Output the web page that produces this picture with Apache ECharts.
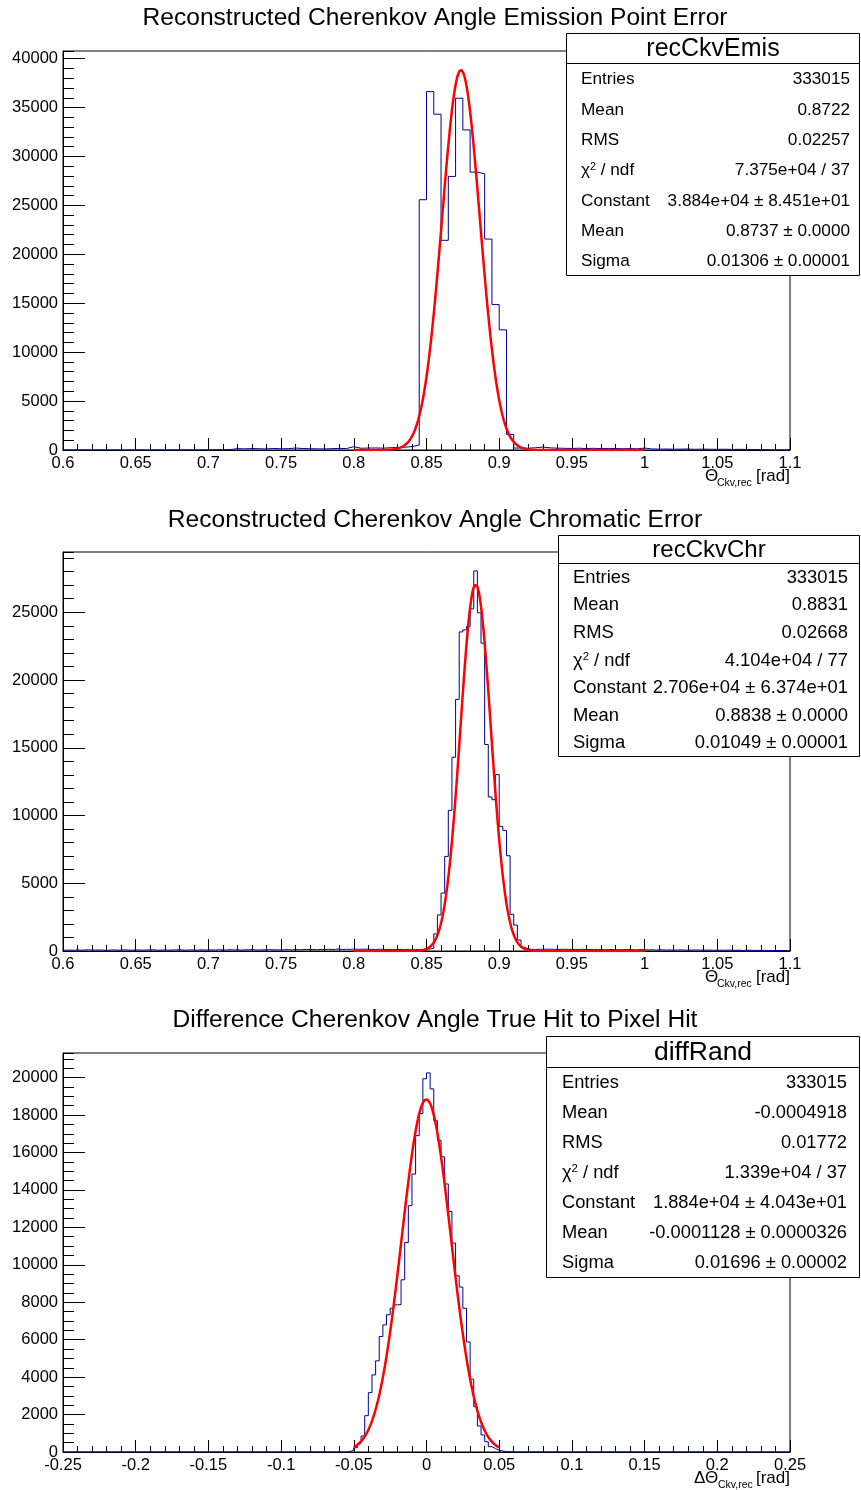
<!DOCTYPE html>
<html>
<head>
<meta charset="utf-8">
<script src="https://cdn.jsdelivr.net/npm/echarts@6/dist/echarts.min.js"></script>
<style>
  html, body { margin: 0; padding: 0; background: #ffffff; }
  #chart { width: 861px; height: 1490px; }
</style>
</head>
<body>
<div id="chart"></div>
<script>
// ---------------- Histogram contents ----------------

// recCkvEmis : 100 bins, 0.6 .. 1.1
const emisBinLow = 0.6;
const emisBinWidth = 0.005;
const emisCounts = [
  0, 0, 10, 0, 0, 10, 0, 0, 0, 10, 0, 0, 10, 0, 0, 0, 10, 0, 0, 10,
  20, 30, 40, 140, 120, 150, 130, 110, 160, 120, 140, 200, 150, 130, 120, 110, 140, 160, 150, 340,
  180, 200, 210, 190, 230, 250, 280, 350, 500, 25580, 36630, 34320, 21430, 27960, 35950, 32720, 28400, 28230, 21560, 14860,
  12280, 1600, 200, 180, 230, 300, 220, 190, 170, 160, 180, 150, 170, 140, 160, 150, 130, 140, 120, 200,
  110, 90, 100, 80, 90, 100, 70, 90, 80, 70, 80, 60, 70, 60, 50, 40, 20, 10, 10, 0
];

// recCkvChr : 200 bins, 0.6 .. 1.1
const chrBinLow = 0.6;
const chrBinWidth = 0.0025;
const chrCounts = [
  60, 70, 50, 80, 60, 70, 90, 60, 70, 80, 60, 50, 70, 80, 60, 70, 90, 70, 60, 80,
  70, 60, 80, 70, 90, 60, 70, 80, 60, 70, 80, 90, 70, 60, 80, 70, 60, 90, 70, 80,
  80, 70, 90, 80, 70, 100, 80, 90, 70, 80, 90, 100, 80, 70, 90, 80, 100, 90, 80, 90,
  90, 100, 80, 110, 90, 100, 120, 100, 110, 90, 120, 110, 130, 100, 120, 140, 110, 130, 120, 140,
  130, 120, 140, 130, 120, 110, 130, 120, 110, 120, 100, 110, 120, 100, 110, 90, 100, 110, 120, 130,
  150, 200, 1260, 2660, 4270, 6980, 10380, 14300, 18570, 23550, 23700, 23950, 25260, 28050, 24960, 22720, 15240, 11370, 11170, 13020,
  9200, 8900, 7030, 2710, 1920, 810, 270, 150, 120, 110, 130, 120, 140, 120, 130, 110, 120, 130, 120, 110,
  120, 110, 130, 100, 110, 120, 100, 110, 90, 100, 110, 90, 100, 90, 110, 100, 90, 80, 100, 90,
  80, 90, 70, 80, 90, 70, 80, 60, 70, 80, 70, 60, 70, 80, 60, 70, 60, 70, 50, 60,
  60, 50, 70, 60, 50, 60, 40, 50, 60, 40, 50, 40, 50, 40, 30, 40, 30, 40, 30, 20
];

// diffRand : 200 bins, -0.25 .. 0.25
const diffBinLow = -0.25;
const diffBinWidth = 0.0025;
const diffCounts = [
  0, 0, 0, 0, 0, 0, 0, 0, 0, 0, 0, 0, 0, 0, 0, 0, 0, 0, 0, 0,
  0, 0, 0, 0, 0, 0, 0, 0, 0, 0, 0, 0, 0, 0, 0, 0, 0, 0, 0, 0,
  0, 0, 0, 0, 0, 0, 0, 0, 0, 0, 0, 0, 0, 0, 0, 0, 0, 0, 0, 0,
  0, 0, 0, 0, 0, 0, 0, 0, 0, 0, 0, 0, 0, 0, 0, 0, 0, 0, 30, 100,
  230, 465, 856, 1940, 3170, 4120, 4870, 6170, 6790, 7330, 7680, 7860, 7880, 9200, 11190, 13160, 14850, 16900, 18080, 19940,
  20250, 19400, 17700, 16650, 15770, 14320, 12850, 11160, 9410, 8810, 7680, 5880, 3890, 2420, 1390, 910, 550, 285, 180, 100,
  50, 20, 10, 0, 0, 0, 0, 0, 0, 0, 0, 0, 0, 0, 0, 0, 0, 0, 0, 0,
  0, 0, 0, 0, 0, 0, 0, 0, 0, 0, 0, 0, 0, 0, 0, 0, 0, 0, 0, 0,
  0, 0, 0, 0, 0, 0, 0, 0, 0, 0, 0, 0, 0, 0, 0, 0, 0, 0, 0, 0,
  0, 0, 0, 0, 0, 0, 0, 0, 0, 0, 0, 0, 0, 0, 0, 0, 0, 0, 0, 0
];

// ---------------- Gaussian fit parameters (constant, mean, sigma) and fit ranges ----------------
const emisFitParams = [38840, 0.8737, 0.01306];
const emisFitRange = [0.8, 1.0];
const chrFitParams = [27060, 0.8838, 0.01049];
const chrFitRange = [0.8, 1.0];
const diffFitParams = [18840, -0.0001128, 0.01696];
const diffFitRange = [-0.05, 0.05];

// ---------------- Axis ranges and tick steps ----------------
const emisXRange = [0.6, 1.1];
const chrXRange = [0.6, 1.1];
const diffXRange = [-0.25, 0.25];
const xTickSteps = [0.05, 0.05, 0.05];
const yMaxima = [40780, 29450, 21315];
const yMajorSteps = [5000, 5000, 2000];
const yMinorSteps = [1000, 1000, 500];

// ---------------- Titles and statistics boxes ----------------
const titles = [
  'Reconstructed Cherenkov Angle Emission Point Error',
  'Reconstructed Cherenkov Angle Chromatic Error',
  'Difference Cherenkov Angle True Hit to Pixel Hit'
];
const statNames = ['recCkvEmis', 'recCkvChr', 'diffRand'];
const statLabels = ['Entries', 'Mean', 'RMS', 'CHI2', 'Constant', 'Mean', 'Sigma'];
const emisStatValues = ['333015', '0.8722', '0.02257', '7.375e+04 / 37', '3.884e+04 \u00b1 8.451e+01', '0.8737 \u00b1 0.0000', '0.01306 \u00b1 0.00001'];
const chrStatValues = ['333015', '0.8831', '0.02668', '4.104e+04 / 77', '2.706e+04 \u00b1 6.374e+01', '0.8838 \u00b1 0.0000', '0.01049 \u00b1 0.00001'];
const diffStatValues = ['333015', '-0.0004918', '0.01772', '1.339e+04 / 37', '1.884e+04 \u00b1 4.043e+01', '-0.0001128 \u00b1 0.0000326', '0.01696 \u00b1 0.00002'];
const axisTitleSymbols = ['\u0398', '\u0398', '\u0394\u0398'];

// ---------------- Layout ----------------
const FONT = "'Liberation Sans', Arial, Helvetica, sans-serif";
const PLOT_LEFT = 63;
const PLOT_WIDTH = 727;
const PLOT_HEIGHT = 399;
const plotTops = [51, 552, 1053];
const titleCentersY = [18, 520, 1020];
// stats box: left, top, header bottom, bottom, label x, value right x, font sizes, row text shift
const statBoxes = [
  { left: 566, top: 33, sep: 63, bottom: 275, labelX: 581, valueX: 850, font: 17.2, head: 25, dy: 1.5 },
  { left: 558, top: 535, sep: 563, bottom: 756, labelX: 573, valueX: 848, font: 18.4, head: 24, dy: 1 },
  { left: 546, top: 1036, sep: 1067, bottom: 1277, labelX: 562, valueX: 847, font: 18.3, head: 26.5, dy: 0.5 }
];
const STAT_RIGHT = 860;
const axisTitleLayout = [
  { symX: 705, subX: 717, y: 476 },
  { symX: 705, subX: 717, y: 977 },
  { symX: 694, subX: 718, y: 1478 }
];

// ---------------- Helpers ----------------
function histPoints(low, width, counts) {
  const pts = counts.map((c, i) => [low + i * width, c]);
  pts.push([low + counts.length * width, counts[counts.length - 1]]);
  return pts;
}
function fitCurve(params, range) {
  const [c, m, s] = params;
  const pts = [];
  const n = 500;
  for (let j = 0; j <= n; j++) {
    const x = range[0] + (range[1] - range[0]) * j / n;
    const t = (x - m) / s;
    pts.push([x, c * Math.exp(-0.5 * t * t)]);
  }
  return pts;
}

const histograms = [
  histPoints(emisBinLow, emisBinWidth, emisCounts),
  histPoints(chrBinLow, chrBinWidth, chrCounts),
  histPoints(diffBinLow, diffBinWidth, diffCounts)
];
const fits = [
  fitCurve(emisFitParams, emisFitRange),
  fitCurve(chrFitParams, chrFitRange),
  fitCurve(diffFitParams, diffFitRange)
];
const xRanges = [emisXRange, chrXRange, diffXRange];
const statValues = [emisStatValues, chrStatValues, diffStatValues];

const grids = [], xAxes = [], yAxes = [], series = [], graphics = [];

for (let k = 0; k < 3; k++) {
  grids.push({
    left: PLOT_LEFT, top: plotTops[k], width: PLOT_WIDTH, height: PLOT_HEIGHT,
    show: true, borderColor: '#000', borderWidth: 1, backgroundColor: 'transparent'
  });
  xAxes.push({
    gridIndex: k, type: 'value', min: xRanges[k][0], max: xRanges[k][1], interval: xTickSteps[k],
    axisLine: { show: true, onZero: false, lineStyle: { color: '#000', width: 1 } },
    axisTick: { show: true, inside: true, length: 12, lineStyle: { color: '#000', width: 1 } },
    minorTick: { show: true, splitNumber: 5, length: 6, lineStyle: { color: '#000', width: 1 } },
    axisLabel: { color: '#000', fontSize: 16.5, fontFamily: FONT, margin: 5 },
    splitLine: { show: false }, minorSplitLine: { show: false }
  });
  // labelled axis with major ticks
  yAxes.push({
    gridIndex: k, type: 'value', position: 'left', min: 0, max: yMaxima[k], interval: yMajorSteps[k],
    axisLine: { show: true, onZero: false, lineStyle: { color: '#000', width: 1 } },
    axisTick: { show: true, inside: true, length: 22, lineStyle: { color: '#000', width: 1 } },
    axisLabel: {
      color: '#000', fontSize: 16.5, fontFamily: FONT, margin: 5, showMaxLabel: false,
      formatter: (v) => String(v)
    },
    splitLine: { show: false }
  });
  // companion axis carrying the secondary ticks
  yAxes.push({
    gridIndex: k, type: 'value', position: 'left', min: 0, max: yMaxima[k], interval: yMinorSteps[k],
    axisLine: { show: false, onZero: false },
    axisTick: { show: true, inside: true, length: 11, lineStyle: { color: '#000', width: 1 } },
    axisLabel: { show: false },
    splitLine: { show: false }
  });
  series.push({
    type: 'line', xAxisIndex: k, yAxisIndex: 2 * k, data: histograms[k], step: 'end',
    symbol: 'none', showSymbol: false, silent: true, z: 2,
    lineStyle: { color: '#000099', width: 1 }
  });
  series.push({
    type: 'line', xAxisIndex: k, yAxisIndex: 2 * k, data: fits[k],
    symbol: 'none', showSymbol: false, silent: true, z: 3, smooth: false,
    lineStyle: { color: '#ff0000', width: 2.5 }
  });

  // panel title
  graphics.push({
    type: 'text', x: 435, y: titleCentersY[k], z: 10,
    style: { text: titles[k], fontSize: 24.6, fontFamily: FONT, fill: '#000', align: 'center', verticalAlign: 'middle' }
  });

  // x axis title
  const at = axisTitleLayout[k];
  graphics.push({
    type: 'text', x: at.symX, y: at.y, z: 10,
    style: { text: axisTitleSymbols[k], fontSize: 17, fontFamily: FONT, fill: '#000', align: 'left', verticalAlign: 'middle' }
  });
  graphics.push({
    type: 'text', x: at.subX, y: at.y + 7, z: 10,
    style: { text: 'Ckv,rec', fontSize: 10.5, fontFamily: FONT, fill: '#000', align: 'left', verticalAlign: 'middle' }
  });
  graphics.push({
    type: 'text', x: 790, y: at.y, z: 10,
    style: { text: '[rad]', fontSize: 17, fontFamily: FONT, fill: '#000', align: 'right', verticalAlign: 'middle' }
  });

  // statistics box
  const b = statBoxes[k];
  graphics.push({
    type: 'rect', z: 20,
    shape: { x: b.left + 0.5, y: b.top + 0.5, width: STAT_RIGHT - b.left - 1, height: b.bottom - b.top },
    style: { fill: '#fff', stroke: '#000', lineWidth: 1 }
  });
  graphics.push({
    type: 'line', z: 21,
    shape: { x1: b.left + 0.5, y1: b.sep + 0.5, x2: STAT_RIGHT - 0.5, y2: b.sep + 0.5 },
    style: { stroke: '#000', lineWidth: 1 }
  });
  graphics.push({
    type: 'text', x: (b.left + STAT_RIGHT) / 2, y: (b.top + b.sep) / 2 + 1, z: 22,
    style: { text: statNames[k], fontSize: b.head, fontFamily: FONT, fill: '#000', align: 'center', verticalAlign: 'middle' }
  });
  const rowH = (b.bottom - b.sep) / statLabels.length;
  statLabels.forEach((lab, r) => {
    const cy = b.sep + rowH * (r + 0.5) + b.dy;
    const isChi = lab === 'CHI2';
    graphics.push({
      type: 'text', x: b.labelX, y: cy, z: 22,
      style: isChi ? {
        text: '{g|\u03c7}{s|2}{g| / ndf}', align: 'left', verticalAlign: 'middle',
        rich: {
          g: { fontSize: b.font, fontFamily: FONT, fill: '#000', verticalAlign: 'bottom' },
          s: { fontSize: b.font * 0.62, fontFamily: FONT, fill: '#000', verticalAlign: 'top' }
        }
      } : {
        text: lab, fontSize: b.font, fontFamily: FONT, fill: '#000', align: 'left', verticalAlign: 'middle'
      }
    });
    graphics.push({
      type: 'text', x: b.valueX, y: cy, z: 22,
      style: { text: statValues[k][r], fontSize: b.font, fontFamily: FONT, fill: '#000', align: 'right', verticalAlign: 'middle' }
    });
  });
}

const chart = echarts.init(document.getElementById('chart'), null, { renderer: 'canvas', width: 861, height: 1490 });
chart.setOption({
  animation: false,
  backgroundColor: '#ffffff',
  grid: grids,
  xAxis: xAxes,
  yAxis: yAxes,
  series: series,
  graphic: graphics
});
</script>
</body>
</html>
